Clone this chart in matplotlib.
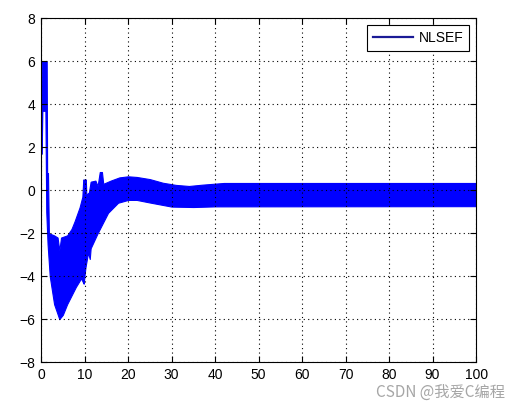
import matplotlib
matplotlib.use("Agg")
import matplotlib.pyplot as plt
from matplotlib.lines import Line2D
import numpy as np

# envelope of the oscillating NLSEF output
x_up = [0, 0.15, 1.3, 1.4, 1.6, 1.8, 3.0, 3.8, 4.2, 4.6, 6.0, 7.0, 7.7, 8.85,
        9.5, 9.7, 10.3, 10.4, 11.0, 11.4, 12.5, 13.0, 13.5, 14.0, 14.3, 16,
        18, 20, 22, 25, 28, 31, 34, 37, 42, 100]
y_up = [1.7, 6.0, 6.0, 0.8, 0.8, -2.0, -2.1, -2.2, -2.8, -2.2, -2.1, -1.8,
        -1.45, -0.8, -0.3, 0.5, 0.5, -0.2, -0.1, 0.4, 0.45, 0.2, 0.85, 0.85,
        0.3, 0.45, 0.6, 0.65, 0.62, 0.52, 0.35, 0.25, 0.2, 0.26, 0.34, 0.34]

x_lo = [0, 0.15, 0.3, 1.0, 1.2, 1.5, 2.0, 3.0, 4.2, 5.0, 6.0, 7.0, 8.0, 9.2,
        9.8, 10.2, 10.8, 11.2, 11.4, 13.0, 15.4, 17.7, 20, 22, 25, 30, 35,
        40, 100]
y_lo = [1.7, 1.7, 3.7, 3.7, -1.0, -2.5, -4.0, -5.3, -6.0, -5.8, -5.3, -4.9,
        -4.5, -4.1, -4.35, -3.6, -2.9, -3.2, -2.7, -2.0, -1.05, -0.58, -0.45,
        -0.45, -0.57, -0.76, -0.78, -0.75, -0.74]

x_ticks = list(range(0, 101, 10))
y_ticks = list(range(-8, 9, 2))
label = "NLSEF"

plt.rcParams['font.family'] = ['Liberation Sans', 'DejaVu Sans']

fig = plt.figure(figsize=(5.13, 4.01), dpi=100)
ax = fig.add_axes([0.080, 0.097, 0.848, 0.857])

# merge both envelopes onto a shared x grid
xs = np.union1d(x_up, x_lo)
up = np.interp(xs, x_up, y_up)
lo = np.interp(xs, x_lo, y_lo)
ax.fill_between(xs, lo, up, color="#0000ff", linewidth=0.8, edgecolor="#0000ff")

ax.set_xlim(0, 100)
ax.set_ylim(-8, 8)
ax.set_xticks(x_ticks)
ax.set_yticks(y_ticks)
ax.tick_params(direction="in", top=True, right=True, length=4, width=0.8,
               labelsize=10, pad=4)
ax.grid(True, linestyle=(0, (1, 3)), color="black", linewidth=0.8)
for s in ax.spines.values():
    s.set_linewidth(0.8)

handle = Line2D([0], [0], color="#1a1a96", linewidth=1.6)
leg = ax.legend([handle], [label], loc="upper right", fontsize=10,
                fancybox=False, framealpha=1, edgecolor="black",
                handlelength=2.9, handletextpad=0.4, borderaxespad=0.5)
leg.get_frame().set_linewidth(0.8)

fig.text(0.985, 0.022, "CSDN @我爱C编程", ha="right", va="center",
         fontsize=11, color="#909090", alpha=0.8,
         family=['Noto Sans CJK SC', 'DejaVu Sans'])

fig.savefig("out.png", dpi=100, facecolor="white")
